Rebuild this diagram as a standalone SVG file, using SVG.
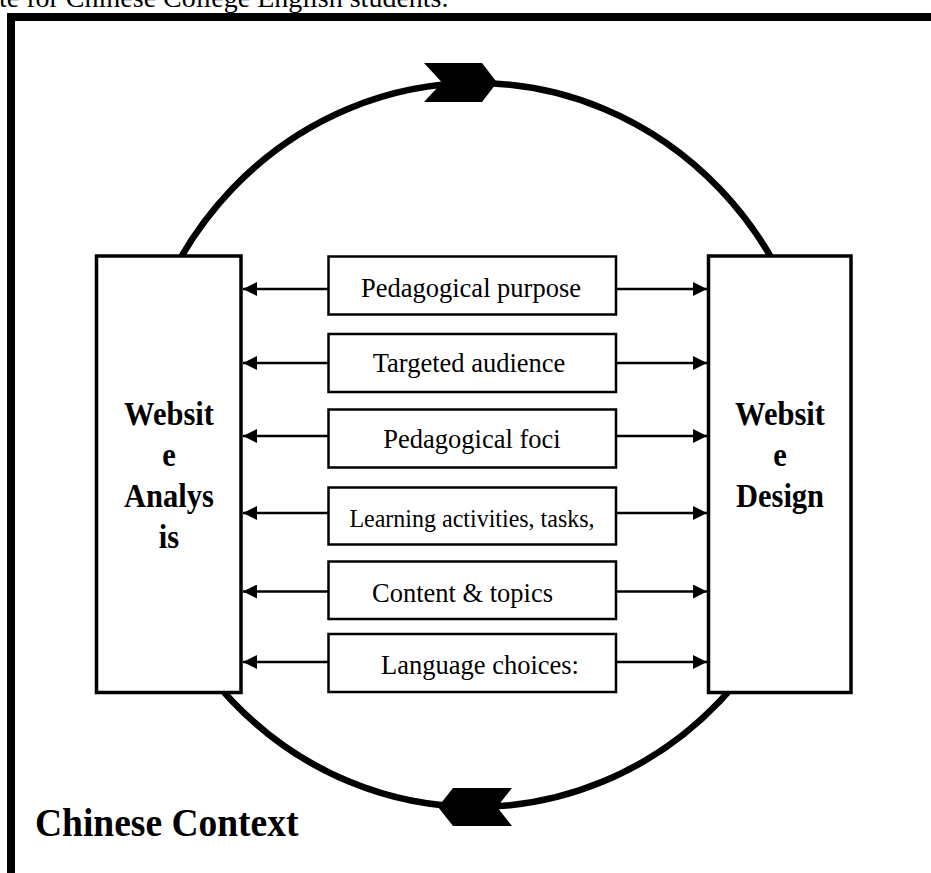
<svg xmlns="http://www.w3.org/2000/svg" width="931" height="873" viewBox="0 0 931 873">
<style>
.frame{fill:none;stroke:#000;stroke-width:8}
.cycle{fill:none;stroke:#000;stroke-width:6.5}
.big{fill:#fff;stroke:#000;stroke-width:3.5}
.box{fill:#fff;stroke:#000;stroke-width:2.5}
.conn{stroke:#000;stroke-width:2.5;fill:none}
.lbl{font-family:"Liberation Serif","Times New Roman",serif;font-size:26.5px;fill:#000;text-anchor:middle}
.bold{font-family:"Liberation Serif","Times New Roman",serif;font-size:30.5px;font-weight:bold;fill:#000;text-anchor:middle}
</style>
<defs>
<marker id="ah" markerUnits="userSpaceOnUse" markerWidth="14" markerHeight="14" refX="14" refY="7" orient="auto">
<path d="M0,0 L14,7 L0,14 z" fill="#000"/>
</marker>
</defs>
<rect width="931" height="873" fill="#fff"/>
<text x="-1" y="7" font-family="Liberation Serif, Times New Roman, serif" font-size="28">te for Chinese College English students.</text>
<path class="frame" d="M11,873 V17 H935"/>
<g id="cycle">
<ellipse class="cycle" cx="476" cy="445" rx="345" ry="362"/>
<polygon points="424,63 482,63 497,82.5 482,102 424,102 442,82.5" fill="#000"/>
<polygon points="438,807 453,788 512,788 497,807 512,826 453,826" fill="#000"/>
</g>
<g id="connectors">
<line class="conn" x1="328.5" y1="289" x2="243" y2="289" marker-end="url(#ah)"/>
<line class="conn" x1="616" y1="289" x2="707" y2="289" marker-end="url(#ah)"/>
<line class="conn" x1="328.5" y1="363" x2="243" y2="363" marker-end="url(#ah)"/>
<line class="conn" x1="616" y1="363" x2="707" y2="363" marker-end="url(#ah)"/>
<line class="conn" x1="328.5" y1="436" x2="243" y2="436" marker-end="url(#ah)"/>
<line class="conn" x1="616" y1="436" x2="707" y2="436" marker-end="url(#ah)"/>
<line class="conn" x1="328.5" y1="513" x2="243" y2="513" marker-end="url(#ah)"/>
<line class="conn" x1="616" y1="513" x2="707" y2="513" marker-end="url(#ah)"/>
<line class="conn" x1="328.5" y1="591.5" x2="243" y2="591.5" marker-end="url(#ah)"/>
<line class="conn" x1="616" y1="591.5" x2="707" y2="591.5" marker-end="url(#ah)"/>
<line class="conn" x1="328.5" y1="662" x2="243" y2="662" marker-end="url(#ah)"/>
<line class="conn" x1="616" y1="662" x2="707" y2="662" marker-end="url(#ah)"/>
</g>
<g id="analysis">
<rect class="big" x="96.5" y="256" width="144.5" height="436.5"/>
<text class="bold" transform="translate(169,425) scale(1,1.07)">Websit</text>
<text class="bold" transform="translate(169,466) scale(1,1.07)">e</text>
<text class="bold" transform="translate(169,507) scale(1,1.07)">Analys</text>
<text class="bold" transform="translate(169,548) scale(1,1.07)">is</text>
</g>
<g id="design">
<rect class="big" x="708.5" y="256" width="142.5" height="436.5"/>
<text class="bold" transform="translate(780,425) scale(1,1.07)">Websit</text>
<text class="bold" transform="translate(780,466) scale(1,1.07)">e</text>
<text class="bold" transform="translate(780,507) scale(1,1.07)">Design</text>
</g>
<g id="purpose">
<rect class="box" x="328.5" y="256.5" width="287.5" height="58"/>
<text class="lbl" transform="translate(471,297) scale(1,1.07)">Pedagogical purpose</text>
</g>
<g id="audience">
<rect class="box" x="328.5" y="334" width="287.5" height="58"/>
<text class="lbl" transform="translate(469,372) scale(1,1.07)">Targeted audience</text>
</g>
<g id="foci">
<rect class="box" x="328.5" y="409.5" width="287.5" height="58"/>
<text class="lbl" transform="translate(472,447.5) scale(1,1.07)">Pedagogical foci</text>
</g>
<g id="activities">
<rect class="box" x="328.5" y="487.5" width="287.5" height="57"/>
<text class="lbl" style="font-size:24px" transform="translate(472,527) scale(1,1.07)">Learning activities, tasks,</text>
</g>
<g id="content">
<rect class="box" x="328.5" y="561.5" width="287.5" height="57.5"/>
<text class="lbl" transform="translate(462.5,601.5) scale(1,1.07)">Content &amp; topics</text>
</g>
<g id="language">
<rect class="box" x="328.5" y="634" width="287.5" height="58"/>
<text class="lbl" transform="translate(480,674) scale(1,1.07)">Language choices:</text>
</g>
<text x="35" y="835" font-family="Liberation Serif, Times New Roman, serif" font-size="37.5" font-weight="bold" transform="translate(0,-49) scale(1,1.06)">Chinese Context</text>
</svg>
